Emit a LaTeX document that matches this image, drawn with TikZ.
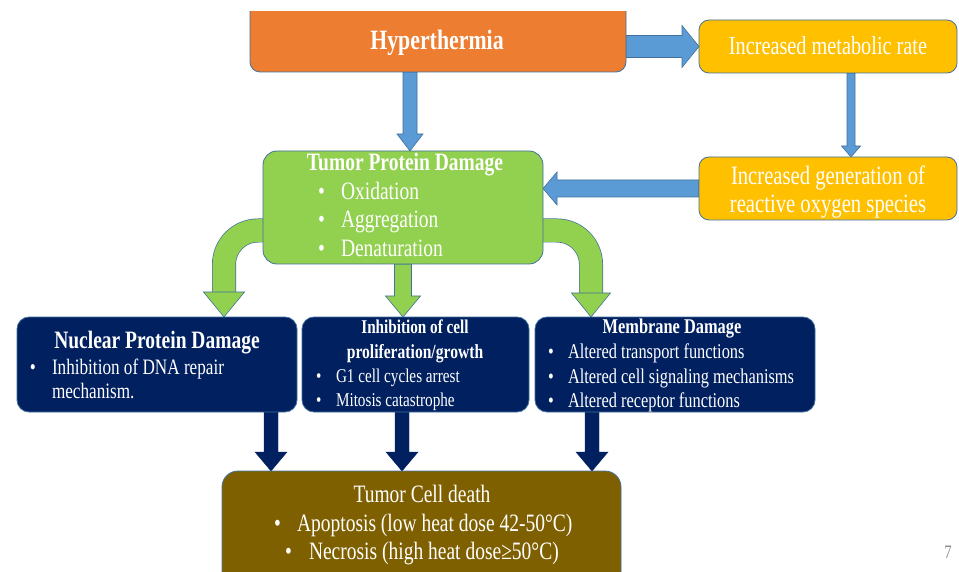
\documentclass[tikz,border=0pt]{standalone}
\usepackage{fontspec}
\setmainfont{Liberation Serif}[FakeStretch=0.78]
\usetikzlibrary{calc}
\definecolor{orangeA}{HTML}{ED7D31}
\definecolor{yellowA}{HTML}{FFC000}
\definecolor{blueA}{HTML}{5B9BD5}
\definecolor{greenA}{HTML}{92D050}
\definecolor{navyA}{HTML}{002060}
\definecolor{brownA}{HTML}{7F6000}
\definecolor{lineA}{HTML}{41719C}
\definecolor{greyA}{HTML}{8C8C8C}
\pgfdeclarelayer{back}
\pgfdeclarelayer{bg}
\pgfsetlayers{back,bg,main}
\tikzset{
 box/.style={draw=lineA, line width=0.8pt, rounded corners=10pt, inner sep=0pt, outer sep=0pt, anchor=north west},
 txt/.style={inner sep=0pt, outer sep=0pt, text=white},
 blk/.style={fill=blueA, draw=lineA, line width=0.6pt},
 nav/.style={fill=navyA, draw=navyA, line width=0.4pt},
 grn/.style={fill=greenA, draw=lineA, line width=0.6pt},
}
\newcommand{\fs}[1]{\fontsize{#1}{#1}\selectfont}
% down block arrow: #1 style, #2 start (x,y), #3 end (y used), #4 half shaft, #5 half head, #6 head length
\newcommand{\dnblk}[6]{%
  \draw[#1] let \p1=#2, \p2=#3 in
    (\x1-#4,\y1) -- (\x1+#4,\y1) -- (\x1+#4,\y2+#6) -- (\x1+#5,\y2+#6) -- (\x1,\y2)
    -- (\x1-#5,\y2+#6) -- (\x1-#4,\y2+#6) -- cycle;}
% right block arrow
\newcommand{\rtblk}[6]{%
  \draw[#1] let \p1=#2, \p2=#3 in
    (\x1,\y1-#4) -- (\x1,\y1+#4) -- (\x2-#6,\y1+#4) -- (\x2-#6,\y1+#5) -- (\x2,\y1)
    -- (\x2-#6,\y1-#5) -- (\x2-#6,\y1-#4) -- cycle;}
% left block arrow
\newcommand{\ltblk}[6]{%
  \draw[#1] let \p1=#2, \p2=#3 in
    (\x1,\y1-#4) -- (\x1,\y1+#4) -- (\x2+#6,\y1+#4) -- (\x2+#6,\y1+#5) -- (\x2,\y1)
    -- (\x2+#6,\y1-#5) -- (\x2+#6,\y1-#4) -- cycle;}
% bullet line: #1 name, #2 bullet x, #3 text x, #4 baseline y, #5 size, #6 text
\newcommand{\bul}[6]{%
  \node[txt, anchor=base west] (#1b) at (#2,#4) {\fs{#5}•};
  \node[txt, anchor=base west] (#1) at (#3,#4) {\fs{#5}#6};}
\begin{document}
\begin{tikzpicture}[x=1pt,y=-1pt]
\useasboundingbox (0,0) rectangle (959,572);
\begin{pgfonlayer}{back}
  \fill[white] (0,0) rectangle (959,572);
\end{pgfonlayer}

% boxes
\begin{scope}
  \clip (0,12) rectangle (959,120);
  \node[box, fill=orangeA, minimum width=376pt, minimum height=72pt] (hyp) at (250,0) {};
\end{scope}
\node[box, fill=yellowA, minimum width=258pt, minimum height=53pt] (met) at (699,20) {};
\node[box, fill=yellowA, minimum width=258pt, minimum height=63pt] (ros) at (699,157) {};
\node[box, fill=greenA, rounded corners=14pt, minimum width=280pt, minimum height=113pt] (tpd) at (263,151) {};
\node[box, fill=navyA, rounded corners=12pt, minimum width=280pt, minimum height=95pt] (n1) at (17,317) {};
\node[box, fill=navyA, rounded corners=12pt, minimum width=227pt, minimum height=95pt] (n2) at (302,317) {};
\node[box, fill=navyA, rounded corners=12pt, minimum width=280pt, minimum height=95pt] (n3) at (535,317) {};
\node[box, fill=brownA, rounded corners=16pt, minimum width=399pt, minimum height=120pt] (cd) at (222,471) {};

% arrows (behind boxes)
\begin{pgfonlayer}{bg}
  \rtblk{blk}{(hyp.east |- met.west)}{(met.west)}{11pt}{21pt}{17pt}
  \dnblk{blk}{($(met.south)+(23,0)$)}{(ros.north)}{4pt}{9.5pt}{11pt}
  \ltblk{blk}{(ros.west)}{(tpd.east)}{8.5pt}{16.5pt}{14pt}
  \dnblk{blk}{($(tpd.north |- hyp.south)+(7,0)$)}{(tpd.north)}{7pt}{13pt}{17pt}
  % green arrows
  \dnblk{grn}{(tpd.south)}{(n2.north)}{8.5pt}{17.5pt}{21pt}
  \coordinate (gl) at ($(n1.north)+(67,0)$);
  \coordinate (gr) at ($(n3.north)+(-84,0)$);
  \draw[lineA, line width=24pt, rounded corners=34pt] ($(tpd.west)+(8,23)$) -| ($(gl)+(0,-24)$);
  \draw[greenA, line width=22.6pt, rounded corners=34pt] ($(tpd.west)+(8,23)$) -| ($(gl)+(0,-23.5)$);
  \draw[grn] ($(gl)+(-20.5,-25)$) -- ($(gl)+(20.5,-25)$) -- (gl) -- cycle;
  \draw[lineA, line width=24pt, rounded corners=34pt] ($(tpd.east)+(-8,23)$) -| ($(gr)+(0,-23)$);
  \draw[greenA, line width=22.6pt, rounded corners=34pt] ($(tpd.east)+(-8,23)$) -| ($(gr)+(0,-22.5)$);
  \draw[grn] ($(gr)+(-19.5,-24)$) -- ($(gr)+(19.5,-24)$) -- (gr) -- cycle;
  % navy arrows
  \dnblk{nav}{($(n1.south)+(114,0)$)}{(cd.north)}{7pt}{16pt}{19pt}
  \dnblk{nav}{($(n2.south)+(-13.5,0)$)}{(cd.north)}{7pt}{16pt}{19pt}
  \dnblk{nav}{($(n3.south)+(-83,0)$)}{(cd.north)}{7pt}{16pt}{19pt}
\end{pgfonlayer}

% texts
\node[txt, anchor=base] (hypT) at (437,50) {\fs{28}\bfseries Hyperthermia};
\node[txt, anchor=base] (metT) at (828,55) {\fs{26}Increased metabolic rate};
\node[txt, anchor=base] (rosT1) at (828,185) {\fs{26.5}Increased generation of};
\node[txt, anchor=base] (rosT2) at (828,213) {\fs{26.5}reactive oxygen species};

\node[txt, anchor=base] (tpdT) at (405,171) {\fs{25}\bfseries Tumor Protein Damage};
\bul{tpdA}{318}{341}{200}{25}{Oxidation}
\bul{tpdB}{318}{341}{228}{25}{Aggregation}
\bul{tpdC}{318}{341}{257}{25}{Denaturation}

\node[txt, anchor=base] (n1T) at (157,348) {\fs{25}\bfseries Nuclear Protein Damage};
\bul{n1A}{30}{52}{374}{22}{Inhibition of DNA repair}
\node[txt, anchor=base west] (n1B) at (52,398) {\fs{22}mechanism.};

\node[txt, anchor=base] (n2T1) at (415,334) {\fs{19.5}\bfseries Inhibition of cell};
\node[txt, anchor=base] (n2T2) at (415,358) {\fs{20}\bfseries proliferation/growth};
\bul{n2A}{316}{336}{382}{19.5}{G1 cell cycles arrest}
\bul{n2B}{316}{336}{406}{19.5}{Mitosis catastrophe}

\node[txt, anchor=base] (n3T) at (672,334) {\fs{21}\bfseries Membrane Damage};
\bul{n3A}{548}{568}{358}{21}{Altered transport functions}
\bul{n3B}{548}{568}{383}{21}{Altered cell signaling mechanisms}
\bul{n3C}{548}{568}{407}{21}{Altered receptor functions}

\node[txt, anchor=base] (cdT) at (422,502) {\fs{25}Tumor Cell death};
\bul{cdA}{274}{297}{531}{25}{Apoptosis (low heat dose 42-50°C)}
\bul{cdB}{285}{309}{559}{25}{Necrosis (high heat dose≥50°C)}

\node[inner sep=0pt, anchor=base, text=greyA] (pg) at (948,558) {\fs{19}7};
\end{tikzpicture}
\end{document}
